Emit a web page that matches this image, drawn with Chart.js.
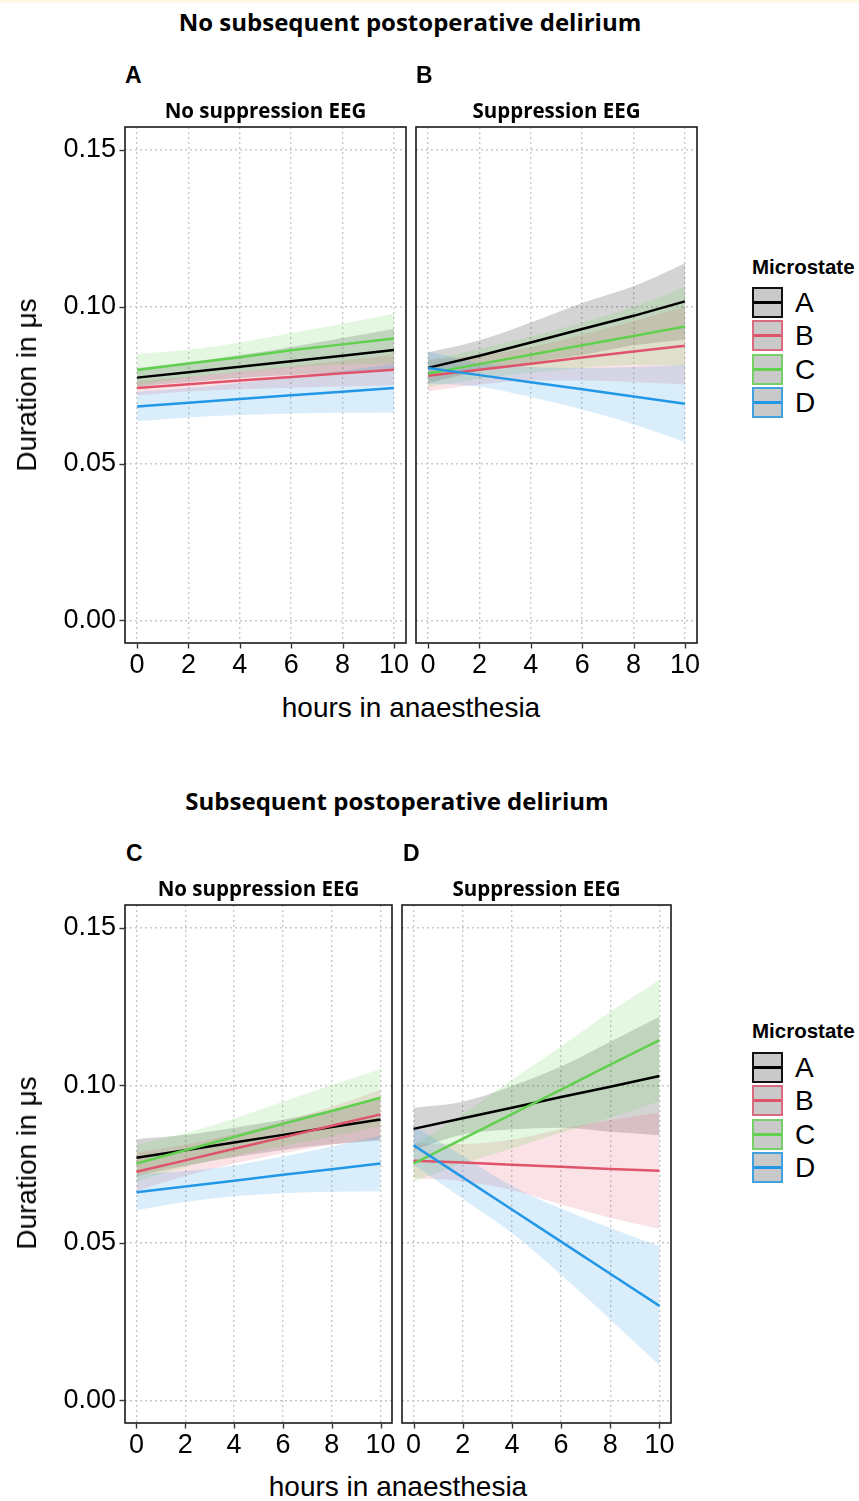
<!DOCTYPE html>
<html><head><meta charset="utf-8">
<script src="https://cdn.jsdelivr.net/npm/chart.js@4.4.0/dist/chart.umd.min.js"></script>
<style>
html,body{margin:0;padding:0;background:#fff;}
#wrap{position:relative;width:859px;height:1501px;overflow:hidden;background:#fff;font-family:"Liberation Sans",Arial,sans-serif;}
canvas{position:absolute;}
.t{position:absolute;white-space:nowrap;color:#000;line-height:1;transform:translate(-50%,-50%);}
.tl{position:absolute;white-space:nowrap;color:#000;line-height:1;transform:translate(0,-50%);}
.main{font-family:"Open Sans",sans-serif;font-weight:700;font-size:24px;}
.strip{font-family:"Open Sans",sans-serif;font-weight:700;font-size:20.5px;}
.letter{font-family:"Liberation Sans",Arial,sans-serif;font-weight:700;font-size:23px;}
.axt{font-family:"Liberation Sans",Arial,sans-serif;font-size:28px;}
.legt{font-family:"Liberation Sans",Arial,sans-serif;font-weight:700;font-size:20.5px;}
.legl{font-family:"Liberation Sans",Arial,sans-serif;font-size:28px;}
.key{position:absolute;width:27px;height:27px;background:#c9c9c9;border:2px solid;}
.key i{position:absolute;left:0;right:0;top:12px;height:3px;}
#band{position:absolute;left:0;top:0;width:859px;height:3px;background:#fdf8e6;}
</style>
</head><body>
<div id="wrap"><div id="band"></div></div>
<script>
// ---------------- data ----------------
const hours = [0, 2, 4, 6, 8, 10];
const xTicks = [0, 2, 4, 6, 8, 10];
const yTicks = [0, 0.05, 0.10, 0.15];
const microstates = ['A', 'B', 'C', 'D'];
const colors = ['#000000', '#DF536B', '#61D04F', '#2297E6'];

// Panel A: No subsequent postoperative delirium, No suppression EEG
const p1A_fit = [0.0774, 0.0791, 0.0809, 0.0826, 0.0844, 0.0862];
const p1A_lo  = [0.0745, 0.0760, 0.0773, 0.0782, 0.0790, 0.0795];
const p1A_hi  = [0.0805, 0.0823, 0.0846, 0.0872, 0.0900, 0.0930];
const p1B_fit = [0.0741, 0.0753, 0.0765, 0.0776, 0.0788, 0.0799];
const p1B_lo  = [0.0718, 0.0730, 0.0737, 0.0742, 0.0746, 0.0750];
const p1B_hi  = [0.0764, 0.0777, 0.0793, 0.0810, 0.0829, 0.0848];
const p1C_fit = [0.0798, 0.0819, 0.0839, 0.0861, 0.0880, 0.0899];
const p1C_lo  = [0.0747, 0.0775, 0.0792, 0.0806, 0.0814, 0.0820];
const p1C_hi  = [0.0849, 0.0863, 0.0886, 0.0916, 0.0946, 0.0978];
const p1D_fit = [0.0682, 0.0694, 0.0706, 0.0718, 0.0729, 0.0741];
const p1D_lo  = [0.0635, 0.0647, 0.0655, 0.0660, 0.0662, 0.0663];
const p1D_hi  = [0.0729, 0.0741, 0.0757, 0.0776, 0.0796, 0.0819];

// Panel B: No subsequent postoperative delirium, Suppression EEG
const p2A_fit = [0.0805, 0.0844, 0.0886, 0.0929, 0.0971, 0.1017];
const p2A_lo  = [0.0756, 0.0795, 0.0822, 0.0846, 0.0877, 0.0895];
const p2A_hi  = [0.0854, 0.0893, 0.0950, 0.1012, 0.1065, 0.1139];
const p2B_fit = [0.0780, 0.0799, 0.0818, 0.0838, 0.0857, 0.0876];
const p2B_lo  = [0.0730, 0.0752, 0.0765, 0.0765, 0.0760, 0.0752];
const p2B_hi  = [0.0830, 0.0846, 0.0871, 0.0911, 0.0954, 0.1000];
const p2C_fit = [0.0787, 0.0817, 0.0847, 0.0877, 0.0907, 0.0937];
const p2C_lo  = [0.0745, 0.0770, 0.0790, 0.0805, 0.0815, 0.0812];
const p2C_hi  = [0.0830, 0.0865, 0.0905, 0.0950, 0.1000, 0.1063];
const p2D_fit = [0.0805, 0.0782, 0.0759, 0.0737, 0.0714, 0.0691];
const p2D_lo  = [0.0755, 0.0745, 0.0712, 0.0672, 0.0625, 0.0568];
const p2D_hi  = [0.0858, 0.0820, 0.0808, 0.0805, 0.0808, 0.0815];

// Panel C: Subsequent postoperative delirium, No suppression EEG
const p3A_fit = [0.0770, 0.0794, 0.0819, 0.0843, 0.0868, 0.0892];
const p3A_lo  = [0.0712, 0.0745, 0.0772, 0.0795, 0.0813, 0.0825];
const p3A_hi  = [0.0829, 0.0843, 0.0866, 0.0891, 0.0923, 0.0960];
const p3B_fit = [0.0726, 0.0762, 0.0799, 0.0835, 0.0872, 0.0908];
const p3B_lo  = [0.0665, 0.0712, 0.0752, 0.0785, 0.0812, 0.0830];
const p3B_hi  = [0.0787, 0.0812, 0.0846, 0.0885, 0.0932, 0.0986];
const p3C_fit = [0.0752, 0.0794, 0.0836, 0.0878, 0.0919, 0.0961];
const p3C_lo  = [0.0694, 0.0740, 0.0777, 0.0808, 0.0837, 0.0871];
const p3C_hi  = [0.0810, 0.0848, 0.0895, 0.0948, 0.1001, 0.1051];
const p3D_fit = [0.0661, 0.0679, 0.0697, 0.0716, 0.0734, 0.0752];
const p3D_lo  = [0.0604, 0.0630, 0.0648, 0.0658, 0.0662, 0.0664];
const p3D_hi  = [0.0718, 0.0728, 0.0746, 0.0774, 0.0806, 0.0840];

// Panel D: Subsequent postoperative delirium, Suppression EEG
const p4A_fit = [0.0862, 0.0896, 0.0929, 0.0963, 0.0996, 0.1030];
const p4A_lo  = [0.0795, 0.0844, 0.0860, 0.0866, 0.0853, 0.0842];
const p4A_hi  = [0.0929, 0.0948, 0.0998, 0.1060, 0.1139, 0.1218];
const p4B_fit = [0.0761, 0.0755, 0.0748, 0.0742, 0.0735, 0.0729];
const p4B_lo  = [0.0706, 0.0696, 0.0668, 0.0622, 0.0580, 0.0544];
const p4B_hi  = [0.0816, 0.0814, 0.0828, 0.0862, 0.0890, 0.0914];
const p4C_fit = [0.0752, 0.0830, 0.0909, 0.0987, 0.1066, 0.1144];
const p4C_lo  = [0.0694, 0.0752, 0.0800, 0.0850, 0.0898, 0.0950];
const p4C_hi  = [0.0810, 0.0908, 0.1018, 0.1124, 0.1234, 0.1335];
const p4D_fit = [0.0810, 0.0708, 0.0606, 0.0504, 0.0402, 0.0300];
const p4D_lo  = [0.0748, 0.0640, 0.0531, 0.0399, 0.0257, 0.0111];
const p4D_hi  = [0.0872, 0.0776, 0.0681, 0.0609, 0.0547, 0.0489];

// ---------------- helpers ----------------
const wrap = document.getElementById('wrap');
function rgba(hex, a){
  const n = parseInt(hex.slice(1), 16);
  return `rgba(${(n>>16)&255},${(n>>8)&255},${n&255},${a})`;
}
function pts(arr){ return hours.map((h, i) => ({x: h, y: arr[i]})); }
function addText(txt, x, y, cls, center=true, extra=''){
  const d = document.createElement('div');
  d.className = (center ? 't ' : 'tl ') + cls;
  d.textContent = txt;
  d.style.left = x + 'px'; d.style.top = y + 'px';
  if (extra) d.style.cssText += extra;
  wrap.appendChild(d);
  return d;
}

const framePlugin = {
  id: 'frame',
  afterDraw(chart, args, opts){
    const {ctx, chartArea: a, scales} = chart;
    ctx.save();
    ctx.strokeStyle = '#1a1a1a';
    ctx.lineWidth = 1.6;
    ctx.setLineDash([]);
    ctx.strokeRect(a.left, a.top, a.right - a.left, a.bottom - a.top);
    ctx.lineWidth = 1.4;
    ctx.strokeStyle = '#333';
    scales.x.ticks.forEach(t => {
      const px = Math.round(scales.x.getPixelForValue(t.value)) + 0.5;
      ctx.beginPath(); ctx.moveTo(px, a.bottom + 0.8); ctx.lineTo(px, a.bottom + 5.5); ctx.stroke();
    });
    if (opts.yTicks){
      scales.y.ticks.forEach(t => {
        const py = Math.round(scales.y.getPixelForValue(t.value)) + 0.5;
        ctx.beginPath(); ctx.moveTo(a.left - 5.5, py); ctx.lineTo(a.left - 0.8, py); ctx.stroke();
      });
    }
    ctx.restore();
  }
};

function buildPanel(p){
  const PADT = 36, PADR = 24, XH = 40;
  const axisW = p.yLabels ? p.left : 3;
  const W = p.right - p.left + axisW + PADR;
  const H = p.bottom - p.top + PADT + XH;
  const cv = document.createElement('canvas');
  cv.width = W; cv.height = H;
  cv.style.left = (p.left - axisW) + 'px';
  cv.style.top = (p.top - PADT) + 'px';
  cv.style.width = W + 'px'; cv.style.height = H + 'px';
  wrap.appendChild(cv);

  const datasets = [];
  p.series.forEach((s, i) => {
    datasets.push({label: microstates[i], data: pts(s.fit), borderColor: colors[i],
      backgroundColor: colors[i], borderWidth: 2.5, pointRadius: 0, fill: false,
      order: 0.4 - i * 0.1, tension: 0});
  });
  p.series.forEach((s, i) => {
    const ord = 5 - i;
    datasets.push({label: microstates[i] + ' upper', data: pts(s.hi), borderColor: 'rgba(0,0,0,0)',
      borderWidth: 0, pointRadius: 0, backgroundColor: rgba(colors[i], 0.17), fill: '+1',
      order: ord, cubicInterpolationMode: 'monotone'});
    datasets.push({label: microstates[i] + ' lower', data: pts(s.lo), borderColor: 'rgba(0,0,0,0)',
      borderWidth: 0, pointRadius: 0, backgroundColor: 'rgba(0,0,0,0)', fill: false,
      order: ord, cubicInterpolationMode: 'monotone'});
  });

  const gridCommon = {color: '#c8c8c8', lineWidth: 1.4, drawTicks: false};
  const borderCommon = {display: false, dash: [2, 3]};
  const tickFont = {family: '"Liberation Sans", Arial, sans-serif', size: 27};

  new Chart(cv, {
    type: 'line',
    data: {datasets},
    options: {
      responsive: false, animation: false, devicePixelRatio: 1,
      layout: {padding: {top: PADT, right: PADR, left: 0, bottom: 0}},
      plugins: {legend: {display: false}, tooltip: {enabled: false}, frame: {yTicks: p.yLabels}},
      scales: {
        x: {type: 'linear', min: -0.47, max: 10.47,
            afterBuildTicks: s => { s.ticks = xTicks.map(v => ({value: v})); },
            afterFit: s => { s.height = XH; },
            ticks: {color: '#000', font: tickFont, padding: 6, maxRotation: 0, autoSkip: false,
                    callback: v => String(v)},
            grid: gridCommon, border: borderCommon},
        y: {type: 'linear', min: -0.0072, max: 0.1573,
            afterBuildTicks: s => { s.ticks = yTicks.map(v => ({value: v})); },
            afterFit: s => { s.width = axisW; },
            ticks: {display: p.yLabels, color: '#000', font: tickFont, padding: 9,
                    callback: v => Number(v).toFixed(2)},
            grid: gridCommon, border: borderCommon}
      }
    },
    plugins: [framePlugin]
  });
}

const panels = [
  {left: 125, top: 127, right: 406, bottom: 643, yLabels: true, series: [
    {fit: p1A_fit, lo: p1A_lo, hi: p1A_hi}, {fit: p1B_fit, lo: p1B_lo, hi: p1B_hi},
    {fit: p1C_fit, lo: p1C_lo, hi: p1C_hi}, {fit: p1D_fit, lo: p1D_lo, hi: p1D_hi}]},
  {left: 416, top: 127, right: 697, bottom: 643, yLabels: false, series: [
    {fit: p2A_fit, lo: p2A_lo, hi: p2A_hi}, {fit: p2B_fit, lo: p2B_lo, hi: p2B_hi},
    {fit: p2C_fit, lo: p2C_lo, hi: p2C_hi}, {fit: p2D_fit, lo: p2D_lo, hi: p2D_hi}]},
  {left: 125, top: 905, right: 392, bottom: 1423, yLabels: true, series: [
    {fit: p3A_fit, lo: p3A_lo, hi: p3A_hi}, {fit: p3B_fit, lo: p3B_lo, hi: p3B_hi},
    {fit: p3C_fit, lo: p3C_lo, hi: p3C_hi}, {fit: p3D_fit, lo: p3D_lo, hi: p3D_hi}]},
  {left: 402, top: 905, right: 671, bottom: 1423, yLabels: false, series: [
    {fit: p4A_fit, lo: p4A_lo, hi: p4A_hi}, {fit: p4B_fit, lo: p4B_lo, hi: p4B_hi},
    {fit: p4C_fit, lo: p4C_lo, hi: p4C_hi}, {fit: p4D_fit, lo: p4D_lo, hi: p4D_hi}]}
];
panels.forEach(buildPanel);

// ---------------- text ----------------
addText('No subsequent postoperative delirium', 410, 22, 'main');
addText('Subsequent postoperative delirium', 397, 801, 'main');
addText('A', 125, 75, 'letter', false);
addText('B', 416, 75, 'letter', false);
addText('C', 126, 853, 'letter', false);
addText('D', 403, 853, 'letter', false);
addText('No suppression EEG', 265.5, 110, 'strip');
addText('Suppression EEG', 556.5, 110, 'strip');
addText('No suppression EEG', 258.5, 888, 'strip');
addText('Suppression EEG', 536.5, 888, 'strip');
addText('hours in anaesthesia', 411, 708, 'axt');
addText('hours in anaesthesia', 398, 1487, 'axt');
addText('Duration in \u03bcs', 27, 385, 'axt', true, 'transform:translate(-50%,-50%) rotate(-90deg);');
addText('Duration in \u03bcs', 27, 1163, 'axt', true, 'transform:translate(-50%,-50%) rotate(-90deg);');

function legend(titleY, keyTop){
  addText('Microstate', 752, titleY, 'legt', false);
  microstates.forEach((m, i) => {
    const top = keyTop + i * 33.4;
    const k = document.createElement('div');
    k.className = 'key';
    k.style.left = '752px'; k.style.top = top + 'px';
    k.style.borderColor = i === 0 ? '#111' : rgba(colors[i], 0.8);
    const ln = document.createElement('i');
    ln.style.background = colors[i];
    k.appendChild(ln);
    wrap.appendChild(k);
    addText(m, 795, top + 16, 'legl', false);
  });
}
legend(267, 287);
legend(1031, 1052);
</script>
</body></html>
